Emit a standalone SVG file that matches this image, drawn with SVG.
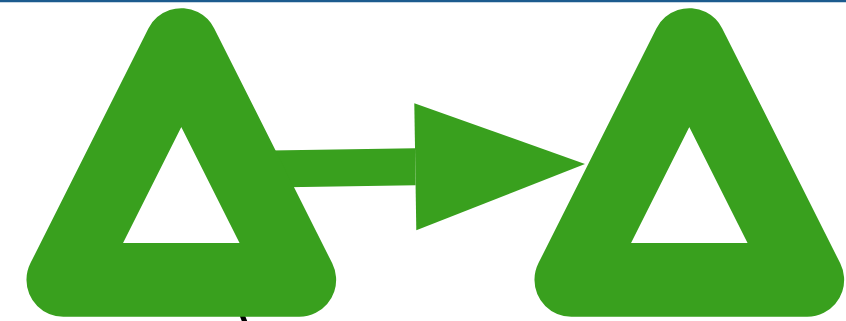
<svg xmlns="http://www.w3.org/2000/svg" width="846" height="321" viewBox="0 0 846 321">
  <style>
    .tri { fill: none; stroke: #39a01e; stroke-width: 73.7; stroke-linejoin: round; }
    .shaft { stroke: #39a01e; stroke-width: 37; stroke-linecap: butt; fill: none; }
    .head { fill: #39a01e; }
  </style>
  <rect x="0" y="0" width="846" height="321" fill="#ffffff"/>
  <line x1="0" y1="1" x2="846" y2="1" stroke="#1c5b8e" stroke-width="2.5"/>
  <g id="connectors">
    <line class="shaft" x1="240" y1="169.4" x2="415.3" y2="166.8"/>
    <polygon class="head" points="414.3,103.3 585,164 416.3,230.3"/>
    <line x1="242.5" y1="316" x2="246.5" y2="326" stroke="#000000" stroke-width="5" stroke-linecap="round"/>
  </g>
  <g id="node1">
    <polygon class="tri" points="181.3,45 299.3,279.85 63.3,279.85"/>
  </g>
  <g id="node2">
    <polygon class="tri" points="689.3,45 807.3,279.85 571.3,279.85"/>
  </g>
</svg>
